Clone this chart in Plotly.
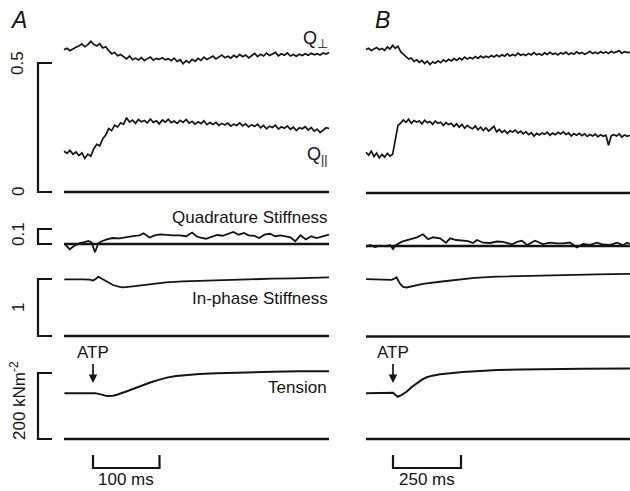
import numpy as np
import plotly.graph_objects as go

W, H = 630, 491

# ---------------- DATA ----------------
# Panel A (time in ms, ATP arrival at t = 0)
qperp_A = [0.551, 0.557, 0.548, 0.556, 0.561, 0.566, 0.574, 0.563, 0.571, 0.584,
           0.572, 0.566, 0.575, 0.558, 0.563, 0.548, 0.536, 0.541, 0.528, 0.533,
           0.524, 0.516, 0.527, 0.513, 0.519, 0.512, 0.521, 0.509, 0.517, 0.523,
           0.511, 0.518, 0.514, 0.520, 0.512, 0.517, 0.509, 0.519, 0.506, 0.513,
           0.497, 0.509, 0.501, 0.514, 0.506, 0.518, 0.510, 0.523, 0.514, 0.520,
           0.527, 0.516, 0.524, 0.531, 0.520, 0.526, 0.519, 0.530, 0.522, 0.533,
           0.524, 0.531, 0.520, 0.529, 0.537, 0.525, 0.534, 0.527, 0.538, 0.529,
           0.535, 0.541, 0.528, 0.536, 0.530, 0.539, 0.527, 0.533, 0.526, 0.534,
           0.529, 0.536, 0.530, 0.538, 0.532, 0.536, 0.531, 0.539, 0.535, 0.541]
qpar_A = [0.158, 0.150, 0.162, 0.146, 0.155, 0.141, 0.152, 0.130, 0.147, 0.139,
          0.168, 0.185, 0.179, 0.206, 0.221, 0.246, 0.238, 0.259, 0.252, 0.268,
          0.262, 0.288, 0.271, 0.279, 0.266, 0.281, 0.272, 0.277, 0.268, 0.283,
          0.270, 0.276, 0.264, 0.279, 0.271, 0.282, 0.269, 0.275, 0.266, 0.278,
          0.270, 0.281, 0.267, 0.274, 0.263, 0.272, 0.265, 0.276, 0.261, 0.269,
          0.262, 0.270, 0.258, 0.266, 0.260, 0.267, 0.255, 0.263, 0.258, 0.268,
          0.256, 0.264, 0.252, 0.261, 0.254, 0.263, 0.249, 0.258, 0.245, 0.255,
          0.250, 0.259, 0.244, 0.253, 0.247, 0.256, 0.243, 0.251, 0.238, 0.249,
          0.245, 0.253, 0.240, 0.250, 0.236, 0.244, 0.230, 0.241, 0.249, 0.246]
q_time_A = np.linspace(-43.6, 355.0, len(qperp_A))

quad_time_A = [-43, -35, -28, -20, -13, -7, -2, 3, 8, 14, 22, 30, 40, 50, 60, 70, 76, 85,
               93, 101, 110, 120, 130, 140, 149, 156, 162, 170, 178, 187, 195, 203, 211,
               219, 227, 234, 242, 250, 258, 266, 274, 282, 290, 297, 304, 312, 320, 328,
               336, 344, 352, 355]
quad_A = [0.003, -0.035, -0.012, 0.006, 0.012, 0.020, 0.010, -0.055, 0.005, 0.020, 0.032,
          0.040, 0.038, 0.047, 0.052, 0.058, 0.072, 0.043, 0.058, 0.064, 0.060, 0.058,
          0.057, 0.052, 0.076, 0.050, 0.043, 0.035, 0.048, 0.060, 0.055, 0.068, 0.080,
          0.062, 0.074, 0.058, 0.055, 0.040, 0.062, 0.068, 0.052, 0.058, 0.050, 0.044,
          0.018, 0.058, 0.030, 0.052, 0.040, 0.048, 0.060, 0.062]

inph_time_A = [-43, -30, -15, -5, 0, 4, 8, 14, 21, 30, 40, 45, 60, 85, 110, 135, 170,
               200, 235, 270, 300, 330, 355]
inph_A = [0.995, 0.998, 0.993, 0.990, 0.972, 1.000, 1.040, 1.000, 0.953, 0.895, 0.860,
          0.852, 0.870, 0.905, 0.940, 0.960, 0.975, 0.985, 0.995, 1.005, 1.012, 1.025, 1.030]

tens_time_A = [-43, -20, -5, 0, 3, 10, 21, 30, 36, 50, 60, 75, 86, 100, 111, 125, 141,
               160, 186, 215, 236, 270, 310, 355]
tens_A = [139, 139, 139, 141, 139, 136, 130, 131, 134, 144, 152, 163, 171, 180, 186, 191,
          194, 197, 199, 201, 203, 204, 205, 205]

# Panel B
qperp_B = [0.556, 0.561, 0.552, 0.559, 0.564, 0.555, 0.560, 0.553, 0.566, 0.558,
           0.572, 0.561, 0.569, 0.548, 0.538, 0.526, 0.519, 0.523, 0.510, 0.516,
           0.506, 0.514, 0.502, 0.511, 0.498, 0.508, 0.503, 0.512, 0.505, 0.516,
           0.509, 0.518, 0.512, 0.521, 0.514, 0.523, 0.516, 0.527, 0.519, 0.525,
           0.520, 0.529, 0.522, 0.531, 0.524, 0.530, 0.525, 0.533, 0.527, 0.535,
           0.528, 0.536, 0.530, 0.539, 0.531, 0.537, 0.532, 0.542, 0.534, 0.538,
           0.533, 0.541, 0.535, 0.544, 0.536, 0.540, 0.534, 0.543, 0.537, 0.545,
           0.538, 0.542, 0.535, 0.544, 0.539, 0.546, 0.537, 0.543, 0.538, 0.547,
           0.540, 0.545, 0.538, 0.543, 0.549, 0.541, 0.546, 0.540, 0.548, 0.542,
           0.547, 0.541, 0.549, 0.543, 0.546, 0.551, 0.542, 0.548, 0.544, 0.546]
qpar_B = [0.158, 0.147, 0.162, 0.141, 0.155, 0.136, 0.150, 0.139, 0.154, 0.143,
          0.150, 0.205, 0.262, 0.271, 0.283, 0.274, 0.286, 0.270, 0.281, 0.275,
          0.279, 0.268, 0.282, 0.272, 0.277, 0.266, 0.279, 0.270, 0.274, 0.262,
          0.273, 0.265, 0.270, 0.258, 0.268, 0.255, 0.266, 0.251, 0.262, 0.254,
          0.249, 0.260, 0.245, 0.255, 0.242, 0.253, 0.240, 0.249, 0.258, 0.237,
          0.246, 0.235, 0.243, 0.231, 0.241, 0.236, 0.244, 0.232, 0.240, 0.229,
          0.238, 0.226, 0.234, 0.220, 0.231, 0.225, 0.233, 0.228, 0.236, 0.224,
          0.232, 0.226, 0.235, 0.229, 0.237, 0.227, 0.233, 0.221, 0.230, 0.224,
          0.231, 0.222, 0.229, 0.219, 0.227, 0.221, 0.228, 0.218, 0.226, 0.220,
          0.224, 0.185, 0.222, 0.226, 0.221, 0.229, 0.217, 0.225, 0.220, 0.224]
q_time_B = np.linspace(-99.3, 871.0, len(qperp_B))

quad_time_B = [-99, -85, -66, -48, -29, -11, 0, 11, 33, 62, 88, 110, 129, 147, 173, 195,
               210, 232, 257, 276, 294, 309, 331, 357, 382, 404, 438, 456, 474, 493, 522,
               551, 577, 603, 625, 650, 676, 699, 724, 750, 772, 798, 824, 846, 860, 871]
quad_B = [-0.005, 0.007, -0.007, 0.003, -0.003, 0.007, -0.020, 0.007, 0.029, 0.045, 0.058,
          0.078, 0.045, 0.058, 0.051, 0.022, 0.051, 0.040, 0.035, 0.033, 0.020, 0.040,
          0.022, 0.020, 0.030, 0.027, 0.011, 0.027, 0.035, 0.007, 0.035, 0.013, 0.023,
          0.017, 0.018, 0.023, -0.009, 0.013, 0.007, 0.022, 0.010, 0.007, 0.022, 0.005,
          0.022, 0.013]

inph_time_B = [-99, -60, -25, -5, 3, 13, 25, 37, 50, 70, 110, 180, 235, 300, 380, 450,
               550, 650, 750, 871]
inph_B = [1.005, 1.003, 0.998, 0.995, 1.010, 1.040, 0.930, 0.870, 0.860, 0.885, 0.925,
          0.965, 1.000, 1.030, 1.050, 1.060, 1.072, 1.082, 1.090, 1.100]

tens_time_B = [-99, -50, -10, 0, 8, 18, 30, 50, 68, 87, 105, 124, 145, 173, 210, 257, 320,
               382, 470, 566, 700, 871]
tens_B = [139, 139, 139, 140, 134, 128, 133, 143, 157, 169, 179, 187, 192, 196, 200, 203,
          206, 209, 210.5, 212, 213, 214]

# scale bar values and labels
q_bar, quad_bar, inph_bar, tens_bar = 0.5, 0.1, 1, 200
time_bar_A, time_bar_B = 100, 250

# ---------------- LAYOUT HELPERS ----------------
INK = "#141414"
FONT = "Liberation Sans, Arial, sans-serif"


def ydom(top, bot):
    return [1 - bot / H, 1 - top / H]


def yaxis(top, bot, zero_px, px_per_unit, anchor):
    return dict(domain=ydom(top, bot),
                range=[(zero_px - bot) / px_per_unit, (zero_px - top) / px_per_unit],
                visible=False, anchor=anchor, fixedrange=True)


def xaxis(left, right, zero_px, px_per_ms):
    return dict(domain=[left / W, right / W],
                range=[(left - zero_px) / px_per_ms, (right - zero_px) / px_per_ms],
                visible=False, fixedrange=True)


rows = dict(q=(20, 202), quad=(204, 258), inph=(260, 342), tens=(344, 450))

fig = go.Figure()


def add(x, y, xa, ya, w=1.7):
    fig.add_trace(go.Scatter(x=list(x), y=list(y), xaxis=xa, yaxis=ya, mode="lines",
                             line=dict(color=INK, width=w), showlegend=False,
                             hoverinfo="skip"))


add(q_time_A, qperp_A, "x", "y")
add(q_time_A, qpar_A, "x", "y")
add(quad_time_A, quad_A, "x", "y2", 1.8)
add(inph_time_A, inph_A, "x", "y3", 1.8)
add(tens_time_A, tens_A, "x", "y4", 2.0)

add(q_time_B, qperp_B, "x2", "y5")
add(q_time_B, qpar_B, "x2", "y5")
add(quad_time_B, quad_B, "x2", "y6", 1.8)
add(inph_time_B, inph_B, "x2", "y7", 1.8)
add(tens_time_B, tens_B, "x2", "y8", 2.0)

shapes = []
# baselines (zero level) in each row
for xr, tarr, yrefs in (("x", q_time_A, ("y", "y2", "y3", "y4")),
                        ("x2", q_time_B, ("y5", "y6", "y7", "y8"))):
    for yr in yrefs:
        shapes.append(dict(type="line", xref=xr, yref=yr, x0=min(tarr), x1=max(tarr),
                           y0=0, y1=0, line=dict(color=INK, width=2.3)))

# vertical calibration brackets on the left
bx0, bx1 = 38 / W, 52 / W
for yr, val in (("y", q_bar), ("y2", quad_bar), ("y3", inph_bar), ("y4", tens_bar)):
    shapes.append(dict(type="path", xref="paper", yref=yr,
                       path=f"M {bx1},{val} L {bx0},{val} L {bx0},0 L {bx1},0",
                       line=dict(color=INK, width=2.2)))

# time calibration brackets
for xr, val in (("x", time_bar_A), ("x2", time_bar_B)):
    yt, yb = 1 - 455 / H, 1 - 468 / H
    shapes.append(dict(type="path", xref=xr, yref="paper",
                       path=f"M 0,{yt} L 0,{yb} L {val},{yb} L {val},{yt}",
                       line=dict(color=INK, width=2.2)))

ann = []


def text(x, y, s, xref="paper", yref="paper", size=17, xanchor="center",
         yanchor="middle", angle=0):
    ann.append(dict(x=x, y=y, xref=xref, yref=yref, text=s, showarrow=False,
                    font=dict(family=FONT, size=size, color=INK), xanchor=xanchor,
                    yanchor=yanchor, textangle=angle))


text(8 / W, 1 - 20 / H, "<i>A</i>", size=23, xanchor="left")
text(373 / W, 1 - 20 / H, "<i>B</i>", size=23, xanchor="left")

lx = 18 / W
text(lx, q_bar, "0.5", yref="y", angle=-90)
text(lx, 0, "0", yref="y", angle=-90)
text(lx, 1 - 234 / H, "0.1", angle=-90)
text(lx, 1 - 308 / H, "1", angle=-90)
text(lx, 1 - 401 / H, "200 kNm<sup>-2</sup>", angle=-90)

text(330 / W, 1 - 39 / H, "Q<sub>⊥</sub>", xanchor="right", size=18)
text(330 / W, 1 - 156 / H, "Q<sub>||</sub>", xanchor="right", size=18)
text(330 / W, 1 - 218 / H, "Quadrature Stiffness", xanchor="right")
text(330 / W, 1 - 298 / H, "In-phase Stiffness", xanchor="right")
text(329 / W, 1 - 387 / H, "Tension", xanchor="right")

text(time_bar_A / 2, 0, f"{time_bar_A} ms", xref="x", yanchor="bottom")
text(time_bar_B / 2, 0, f"{time_bar_B} ms", xref="x2", yanchor="bottom")

for xr, yr in (("x", "y4"), ("x2", "y8")):
    ann.append(dict(x=0, y=170, xref=xr, yref=yr, text="ATP", showarrow=True,
                    ax=0, ay=-30, arrowhead=2, arrowsize=1, arrowwidth=1.7,
                    arrowcolor=INK, font=dict(family=FONT, size=17, color=INK)))

fig.update_layout(
    width=W, height=H, margin=dict(l=0, r=0, t=0, b=0),
    paper_bgcolor="white", plot_bgcolor="rgba(0,0,0,0)",
    showlegend=False, shapes=shapes, annotations=ann,
    xaxis=xaxis(60, 333, 93, 0.665),
    xaxis2=xaxis(362, 630, 393, 0.272),
    yaxis=yaxis(*rows["q"], 192, 258, "x"),
    yaxis2=yaxis(*rows["quad"], 244, 150, "x"),
    yaxis3=yaxis(*rows["inph"], 336, 57, "x"),
    yaxis4=yaxis(*rows["tens"], 439, 0.33, "x"),
    yaxis5=yaxis(*rows["q"], 193, 258, "x2"),
    yaxis6=yaxis(*rows["quad"], 246, 150, "x2"),
    yaxis7=yaxis(*rows["inph"], 336.5, 57, "x2"),
    yaxis8=yaxis(*rows["tens"], 439, 0.33, "x2"),
)

fig.write_html("out.html")
